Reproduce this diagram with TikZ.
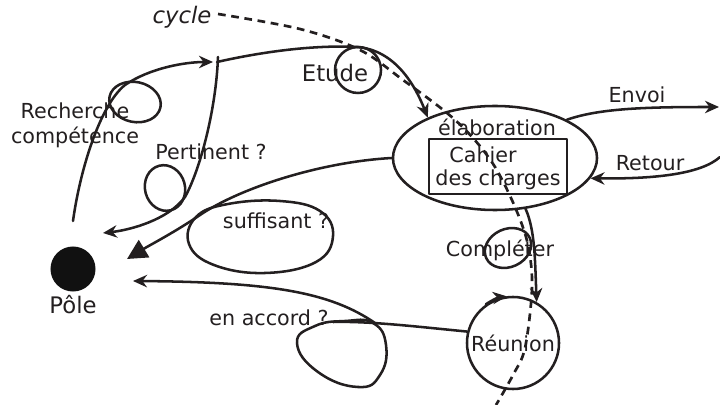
\documentclass[tikz,border=0pt]{standalone}
\usepackage{fontspec}
\setmainfont{DejaVu Sans}
\usepackage{tikz}
\usetikzlibrary{arrows.meta,positioning,shapes.geometric}
\definecolor{skInk}{HTML}{231F20}
\definecolor{skDot}{HTML}{111111}
\tikzset{
  sk diagram/.style={font=\fontsize{14.7}{17.7}\selectfont, color=skInk,
    line width=1.8pt, line cap=round, line join=round},
  sk label/.style={inner sep=0pt, align=center},
  sk big label/.style={sk label, font=\fontsize{16.2}{19}\selectfont},
  sk arrow/.style={-{Stealth[length=3.5mm,width=3.1mm]}},
  sk big arrow/.style={-{Triangle[length=5mm,width=5mm]}},
  sk cycle/.style={line width=1.9pt, dash pattern=on 5.5pt off 4pt, line cap=butt}
}
\begin{document}
\begin{tikzpicture}[sk diagram,x=0.025cm,y=-0.025cm]
\useasboundingbox (0,0) rectangle (720,405);
% nodes
\node[circle, fill=skDot, minimum size=1.125cm, inner sep=0pt] (pole) at (73,269) {};
\node[sk big label] (polelabel) at (73,305) {Pôle};
\node[draw, ellipse, minimum width=5.1cm, minimum height=2.6cm] (elab) at (495,158) {};
\node[sk label] (elablabel) at (497,127) {élaboration};
\node[draw, rectangle, minimum width=3.45cm, minimum height=1.375cm, line width=2pt] (cdc) at (498,166.5) {};
\node[sk label] (cahier) at (483,155) {Cahier};
\node[sk label] (charges) at (498,180) {des charges};
\node[draw, circle, minimum size=2.3cm, inner sep=0pt] (reunion) at (513,343) {Réunion};
\node[sk big label] (cycle) at (182,17) {\textit{cycle}};
\node[sk big label] (etude) at (335,73) {Etude};
\node[sk label] (recherche) at (75,125.5) {Recherche\\compétence};
\node[sk label] (pertinent) at (211,152) {Pertinent ?};
\node[sk label] (suffisant) at (276,221) {suffisant ?};
\node[sk label] (accord) at (269,318) {en accord ?};
\node[sk label] (completer) at (500,250) {Compléter};
\node[sk label] (envoi) at (637,95) {Envoi};
\node[sk label] (retour) at (650,163) {Retour};
% free ends
\coordinate (rechStart) at (73,221);
\coordinate (rechMid) at (125,85);
\coordinate (hubIn) at (213,62);
\coordinate (hubOut) at (217,62);
\coordinate (etudeTop) at (357,47);
\coordinate (pertTop) at (218,57);
\coordinate (pertMid) at (185,197);
\coordinate (pertEnd) at (103,233);
\coordinate (sufCross) at (200,215);
\coordinate (sufEnd) at (127,259);
\coordinate (accordIn) at (333,322);
\coordinate (accordOut) at (375,323);
\coordinate (accordEnd) at (133,281);
\coordinate (envoiEnd) at (719,107);
\coordinate (retourStart) at (720,157);
\coordinate (cycStart) at (218,14);
% loops
\draw[rotate around={-12:(135,102)}] (135,102) ellipse [x radius=26, y radius=20];
\draw[rotate around={15:(165,188)}] (165,188) ellipse [x radius=20, y radius=23];
\draw (358,70) circle [radius=23];
\draw plot[smooth cycle, tension=0.7] coordinates {(196,217) (228,204) (280,201) (320,211) (333,236) (316,262) (265,273) (214,265) (189,244)};
\draw[rotate around={25:(508,248)}] (508,248) ellipse [x radius=24, y radius=19];
\draw plot[smooth cycle, tension=0.8] coordinates {(297,343) (315,326) (345,321) (373,323) (386,345) (380,375) (358,387) (318,372)};
% connectors
\draw[sk arrow] (rechStart) .. controls (80,170) and (100,105) .. (rechMid) .. controls (150,68) and (185,62) .. (hubIn);
\draw[sk arrow] (hubOut) .. controls (270,50) and (320,45) .. (etudeTop) .. controls (395,50) and (415,85) .. (elab.149);
\draw[sk arrow] (pertTop) .. controls (216,110) and (200,170) .. (pertMid) .. controls (168,220) and (130,230) .. (pertEnd);
\draw[sk big arrow] (elab.west) .. controls (320,162) and (240,188) .. (sufCross) .. controls (175,232) and (150,245) .. (sufEnd);
\draw (reunion.166) .. controls (420,327) and (370,321) .. (accordIn);
\draw[sk arrow] (accordOut) .. controls (330,292) and (270,282) .. (accordEnd);
\draw[sk arrow] (elab.-59) .. controls (535,230) and (535,260) .. (reunion.60);
\draw[sk arrow] (elab.28) .. controls (600,108) and (650,107) .. (envoiEnd);
\draw[sk arrow] (retourStart) .. controls (700,175) and (650,179) .. (elab.-12);
\draw[sk arrow] (reunion.125) arc[start angle=125, end angle=97, radius=1.15cm];
\draw[sk cycle] plot[smooth, tension=0.55] coordinates {(cycStart) (300,29) (360,50) (403,80) (447,113) (473,138) (495,167) (515,207) (528,245) (532,288) (525,348) (513,375) (496,405)};
\end{tikzpicture}
\end{document}
